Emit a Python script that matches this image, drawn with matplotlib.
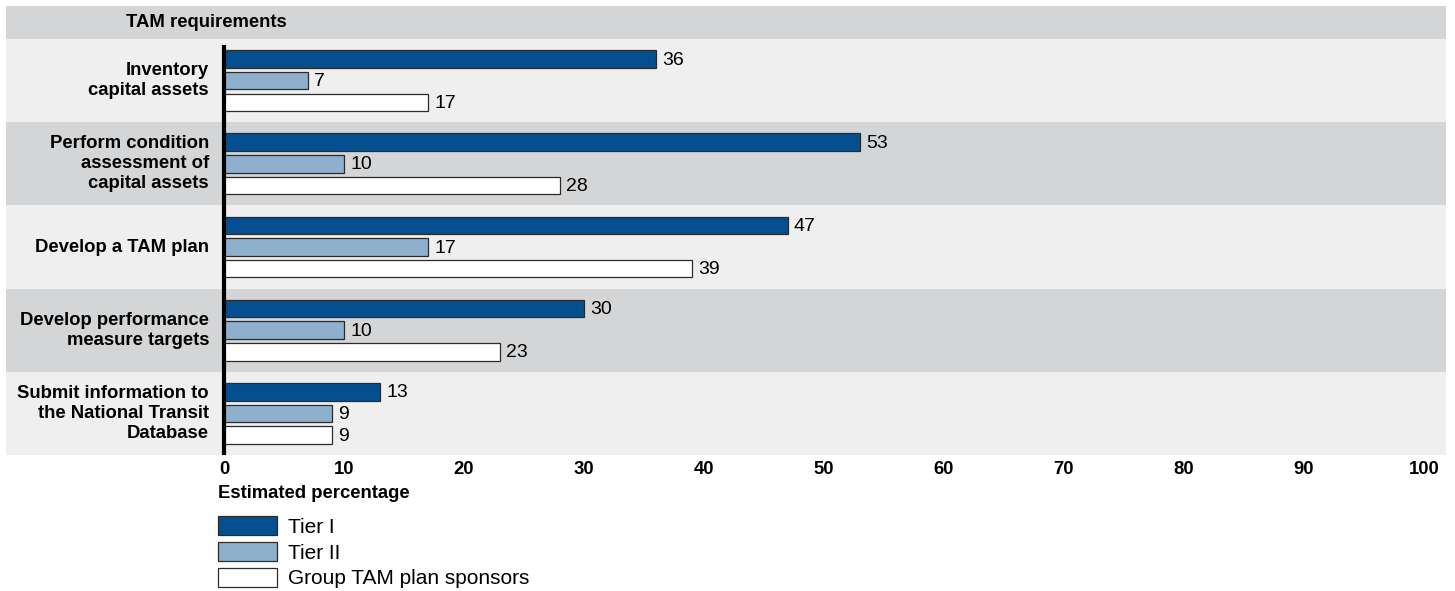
import matplotlib
matplotlib.use("Agg")
import matplotlib.pyplot as plt
from matplotlib.patches import Patch
import numpy as np

plt.rcParams['font.family'] = ['Liberation Sans', 'DejaVu Sans']

# ---- data ----
requirements = [
    "Inventory\ncapital assets",
    "Perform condition\nassessment of\ncapital assets",
    "Develop a TAM plan",
    "Develop performance\nmeasure targets",
    "Submit information to\nthe National Transit\nDatabase",
]
tier1 = [36, 53, 47, 30, 13]
tier2 = [7, 10, 17, 10, 9]
group_sponsors = [17, 28, 39, 23, 9]

series_names = ["Tier I", "Tier II", "Group TAM plan sponsors"]
series_colors = ["#054f8f", "#8fb0cd", "#ffffff"]
xticks = list(range(0, 101, 10))

# ---- layout ----
W, H = 1455, 591
fig = plt.figure(figsize=(W / 100, H / 100), dpi=100)
ax = fig.add_axes([6 / W, 1 - 455 / H, 1440 / W, 449 / H])

px = 12.0                      # pixels per percentage point
hdr = 33 / 83                  # header strip height in row units
ax.set_xlim(-218 / px, 1222 / px)
ax.set_ylim(len(requirements) - 0.5, -0.5 - hdr)

band_light, band_dark = "#efefef", "#d4d5d7"
ax.axhspan(-0.5 - hdr, -0.5, color=band_dark, lw=0, zorder=0)
for i in range(len(requirements)):
    ax.axhspan(i - 0.5, i + 0.5, color=band_light if i % 2 == 0 else band_dark,
               lw=0, zorder=0)

ax.text(-1.5, -0.5 - hdr / 2, "TAM requirements", ha="center", va="center",
        fontsize=13.3, fontweight="bold")

y = np.arange(len(requirements))
offsets = [-0.26, 0.0, 0.26]
bar_h = 0.21
for vals, off, col, name in zip([tier1, tier2, group_sponsors], offsets,
                                series_colors, series_names):
    bars = ax.barh(y + off, vals, height=bar_h, color=col, edgecolor="#2b2b2b",
                   linewidth=0.9, zorder=3, label=name)
    for b, v in zip(bars, vals):
        ax.text(v + 6 / px, b.get_y() + b.get_height() / 2 + 0.012, str(v),
                ha="left", va="center", fontsize=14, zorder=4)

for yi, lab in zip(y, requirements):
    ax.text(-15 / px, yi, lab, ha="right", va="center", fontsize=13.3,
            fontweight="bold", linespacing=1.22)

# thick baseline at zero
ax.vlines(0, len(requirements) - 0.5, -0.5 + 6 / 83, color="black", lw=3, zorder=5)

ax.set_xticks(xticks)
ax.set_xticklabels([str(t) for t in xticks], fontsize=13.3, fontweight="bold")
ax.tick_params(axis="x", length=0, pad=4)
ax.set_yticks([])
for s in ax.spines.values():
    s.set_visible(False)

fig.text(218 / W, 1 - 493 / H, "Estimated percentage", ha="left", va="center",
         fontsize=13.3, fontweight="bold")

handles = [Patch(facecolor=c, edgecolor="#2b2b2b", linewidth=0.9) for c in series_colors]
fs = 15
fpx = fs * 100 / 72
fig.legend(handles, series_names, loc="upper left",
           bbox_to_anchor=(218 / W, 1 - 516 / H), frameon=False, fontsize=fs,
           borderpad=0, borderaxespad=0, handlelength=59 / fpx,
           handleheight=22 / fpx, handletextpad=11 / fpx, labelspacing=5 / fpx)

fig.savefig("out.png", dpi=100, facecolor="white")
